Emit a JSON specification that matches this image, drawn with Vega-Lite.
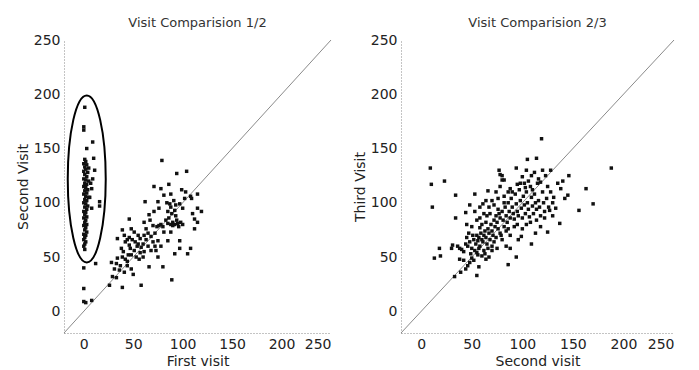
{
  "$schema": "https://vega.github.io/schema/vega-lite/v6.json",
  "background": "white",
  "padding": {"left": 16, "top": 17, "right": 5, "bottom": 5},
  "spacing": 20,
  "datasets": {
    "v12": [
      {"x":1,"y":188},{"x":0,"y":170},{"x":0,"y":167},{"x":9,"y":156},{"x":3,"y":150},{"x":10,"y":141},{"x":11,"y":130},{"x":16,"y":101},{"x":16,"y":97},{"x":8,"y":95},{"x":0,"y":40},{"x":12,"y":44},{"x":0,"y":21},{"x":0,"y":9},{"x":2,"y":8},{"x":8,"y":10},{"x":7,"y":118},{"x":8,"y":113},{"x":6,"y":105},{"x":9,"y":122},{"x":5,"y":132},
      {"x":1,"y":140},{"x":2,"y":138},{"x":0,"y":136},{"x":3,"y":135},{"x":1,"y":133},{"x":2,"y":131},{"x":0,"y":129},{"x":4,"y":128},{"x":1,"y":126},{"x":3,"y":124},{"x":0,"y":122},{"x":2,"y":121},{"x":5,"y":120},{"x":1,"y":118},{"x":3,"y":117},{"x":0,"y":115},{"x":2,"y":114},{"x":4,"y":112},{"x":1,"y":111},{"x":3,"y":109},{"x":0,"y":108},{"x":2,"y":106},{"x":5,"y":105},{"x":1,"y":103},{"x":3,"y":102},{"x":0,"y":100},{"x":2,"y":99},{"x":4,"y":97},{"x":1,"y":96},{"x":3,"y":94},{"x":0,"y":92},{"x":2,"y":91},{"x":1,"y":89},{"x":3,"y":87},{"x":0,"y":86},{"x":2,"y":84},{"x":1,"y":82},{"x":3,"y":80},{"x":0,"y":79},{"x":2,"y":77},{"x":1,"y":75},{"x":3,"y":73},{"x":0,"y":71},{"x":2,"y":70},{"x":1,"y":68},{"x":0,"y":66},{"x":2,"y":64},{"x":1,"y":62},{"x":0,"y":60},{"x":1,"y":57},
      {"x":79,"y":139},{"x":104,"y":129},{"x":94,"y":127},{"x":86,"y":117},{"x":71,"y":115},{"x":78,"y":113},{"x":99,"y":112},{"x":115,"y":108},{"x":108,"y":106},{"x":81,"y":107},{"x":102,"y":104},{"x":91,"y":102},{"x":109,"y":104},{"x":62,"y":101},{"x":75,"y":101},{"x":97,"y":99},{"x":87,"y":99},{"x":115,"y":95},{"x":119,"y":92},{"x":88,"y":96},{"x":46,"y":85},{"x":71,"y":92},{"x":85,"y":92},{"x":92,"y":93},{"x":112,"y":85},{"x":115,"y":82},{"x":112,"y":76},{"x":66,"y":89},{"x":76,"y":95},{"x":61,"y":82},{"x":70,"y":79},{"x":76,"y":79},{"x":85,"y":81},{"x":90,"y":82},{"x":95,"y":81},{"x":81,"y":73},{"x":88,"y":73},{"x":39,"y":75},{"x":48,"y":76},{"x":51,"y":73},{"x":55,"y":70},{"x":41,"y":70},{"x":34,"y":67},{"x":61,"y":70},{"x":68,"y":69},{"x":75,"y":65},{"x":85,"y":65},{"x":97,"y":65},{"x":108,"y":58},{"x":97,"y":58},{"x":105,"y":53},{"x":92,"y":53},{"x":28,"y":45},{"x":31,"y":39},{"x":33,"y":44},{"x":39,"y":50},{"x":48,"y":52},{"x":51,"y":56},{"x":58,"y":59},{"x":61,"y":55},{"x":68,"y":56},{"x":73,"y":56},{"x":75,"y":50},{"x":44,"y":46},{"x":48,"y":39},{"x":41,"y":36},{"x":50,"y":34},{"x":66,"y":41},{"x":80,"y":41},{"x":55,"y":62},{"x":46,"y":61},{"x":38,"y":58},{"x":34,"y":49},{"x":26,"y":24},{"x":39,"y":22},{"x":58,"y":24},{"x":89,"y":29},{"x":29,"y":32},{"x":33,"y":31},
      {"x":42,"y":64},{"x":44,"y":66},{"x":46,"y":68},{"x":49,"y":66},{"x":52,"y":64},{"x":54,"y":60},{"x":57,"y":67},{"x":60,"y":62},{"x":63,"y":66},{"x":65,"y":60},{"x":70,"y":64},{"x":72,"y":60},{"x":74,"y":78},{"x":78,"y":80},{"x":80,"y":78},{"x":83,"y":84},{"x":86,"y":86},{"x":88,"y":80},{"x":90,"y":79},{"x":92,"y":80},{"x":94,"y":84},{"x":96,"y":78},{"x":98,"y":82},{"x":100,"y":80},{"x":93,"y":88},{"x":89,"y":90},{"x":67,"y":84},{"x":63,"y":76},{"x":65,"y":72},{"x":72,"y":72},{"x":60,"y":50},{"x":56,"y":48},{"x":42,"y":48},{"x":45,"y":52},{"x":40,"y":55},{"x":37,"y":42},{"x":44,"y":42},{"x":36,"y":38},{"x":57,"y":54},{"x":53,"y":50},{"x":47,"y":58},{"x":78,"y":60},{"x":100,"y":95},{"x":103,"y":110},{"x":93,"y":98},{"x":84,"y":100},{"x":88,"y":108},{"x":110,"y":90}
    ],
    "v23": [
      {"x":9,"y":132},{"x":10,"y":117},{"x":11,"y":96},{"x":23,"y":120},{"x":34,"y":107},{"x":34,"y":86},{"x":119,"y":159},{"x":105,"y":140},{"x":114,"y":141},{"x":94,"y":132},{"x":77,"y":130},{"x":78,"y":126},{"x":188,"y":132},{"x":170,"y":99},{"x":163,"y":113},{"x":156,"y":93},{"x":146,"y":125},{"x":145,"y":107},{"x":142,"y":104},{"x":137,"y":81},{"x":128,"y":130},{"x":123,"y":125},{"x":118,"y":119},{"x":109,"y":125},{"x":102,"y":118},{"x":95,"y":117},{"x":80,"y":125},{"x":80,"y":121},{"x":88,"y":113},{"x":66,"y":111},{"x":53,"y":108},{"x":48,"y":98},{"x":44,"y":91},{"x":53,"y":92},{"x":61,"y":99},{"x":18,"y":58},{"x":13,"y":49},{"x":19,"y":51},{"x":30,"y":58},{"x":31,"y":61},{"x":38,"y":58},{"x":33,"y":32},{"x":39,"y":36},{"x":46,"y":42},{"x":44,"y":39},{"x":55,"y":33},{"x":57,"y":41},{"x":50,"y":49},{"x":63,"y":53},{"x":67,"y":50},{"x":86,"y":43},{"x":94,"y":50},{"x":109,"y":62},{"x":99,"y":69},{"x":113,"y":72},{"x":125,"y":73},{"x":122,"y":86},{"x":127,"y":93},{"x":133,"y":95},{"x":138,"y":113},{"x":131,"y":105},
      {"x":40,"y":57},{"x":42,"y":55},{"x":44,"y":62},{"x":46,"y":60},{"x":48,"y":64},{"x":50,"y":58},{"x":52,"y":66},{"x":54,"y":62},{"x":55,"y":70},{"x":56,"y":65},{"x":57,"y":68},{"x":58,"y":60},{"x":59,"y":72},{"x":60,"y":66},{"x":61,"y":64},{"x":62,"y":70},{"x":63,"y":74},{"x":64,"y":68},{"x":65,"y":62},{"x":66,"y":76},{"x":67,"y":72},{"x":68,"y":66},{"x":69,"y":80},{"x":70,"y":74},{"x":71,"y":70},{"x":72,"y":84},{"x":73,"y":78},{"x":74,"y":88},{"x":75,"y":82},{"x":76,"y":76},{"x":77,"y":90},{"x":78,"y":86},{"x":79,"y":70},{"x":80,"y":92},{"x":81,"y":84},{"x":82,"y":78},{"x":83,"y":96},{"x":84,"y":88},{"x":85,"y":82},{"x":86,"y":100},{"x":87,"y":92},{"x":88,"y":86},{"x":89,"y":104},{"x":90,"y":96},{"x":91,"y":90},{"x":92,"y":85},{"x":93,"y":108},{"x":94,"y":99},{"x":95,"y":92},{"x":96,"y":88},{"x":97,"y":112},{"x":98,"y":102},{"x":99,"y":95},{"x":100,"y":86},{"x":101,"y":106},{"x":102,"y":98},{"x":103,"y":90},{"x":104,"y":110},{"x":105,"y":100},{"x":106,"y":94},{"x":107,"y":87},{"x":108,"y":115},{"x":109,"y":105},{"x":110,"y":97},{"x":111,"y":90},{"x":112,"y":108},{"x":113,"y":100},{"x":114,"y":94},{"x":115,"y":118},{"x":116,"y":102},{"x":117,"y":96},{"x":118,"y":88},{"x":120,"y":110},{"x":121,"y":100},{"x":122,"y":92},{"x":124,"y":104},{"x":126,"y":96},{"x":128,"y":110},{"x":130,"y":100},
      {"x":45,"y":68},{"x":47,"y":72},{"x":49,"y":53},{"x":51,"y":70},{"x":53,"y":56},{"x":55,"y":54},{"x":57,"y":58},{"x":58,"y":77},{"x":60,"y":80},{"x":62,"y":56},{"x":64,"y":82},{"x":65,"y":88},{"x":66,"y":58},{"x":68,"y":90},{"x":70,"y":60},{"x":72,"y":64},{"x":74,"y":68},{"x":76,"y":94},{"x":78,"y":72},{"x":80,"y":66},{"x":82,"y":100},{"x":84,"y":74},{"x":86,"y":76},{"x":88,"y":70},{"x":90,"y":110},{"x":92,"y":78},{"x":95,"y":80},{"x":98,"y":118},{"x":100,"y":124},{"x":103,"y":114},{"x":106,"y":120},{"x":110,"y":112},{"x":112,"y":128},{"x":116,"y":122},{"x":120,"y":130},{"x":125,"y":115},{"x":36,"y":60},{"x":38,"y":48},{"x":42,"y":47},{"x":48,"y":45},{"x":52,"y":47},{"x":56,"y":52},{"x":60,"y":51},{"x":64,"y":48},{"x":70,"y":56},{"x":75,"y":58},{"x":84,"y":60},{"x":88,"y":58},{"x":58,"y":86},{"x":62,"y":90},{"x":67,"y":96},{"x":72,"y":98},{"x":76,"y":104},{"x":82,"y":106},{"x":86,"y":110},{"x":74,"y":110},{"x":70,"y":102},{"x":64,"y":102},{"x":55,"y":84},{"x":50,"y":78},{"x":45,"y":80},{"x":58,"y":96},{"x":78,"y":115},{"x":82,"y":121},{"x":96,"y":66},{"x":100,"y":76},{"x":104,"y":80},{"x":108,"y":82},{"x":114,"y":84},{"x":118,"y":78},{"x":130,"y":88},{"x":135,"y":118},{"x":140,"y":120},{"x":104,"y":130}
    ],
    "diag": [{"x":-20,"y":-20},{"x":250,"y":250}],
    "ell": [{"x":3,"y":122}]
  },
  "hconcat": [
    {
      "width": 267, "height": 293,
      "title": {"text": "Visit Comparision 1/2"},
      "layer": [
        {"data": {"name": "diag"}, "mark": {"type": "line", "color": "#8a8a8a", "strokeWidth": 1},
         "encoding": {
           "x": {"field": "x", "type": "quantitative", "scale": {"domain": [-20, 250], "nice": false, "zero": false}, "axis": {"title": "First visit", "values": [0, 50, 100, 150, 200, 250]}},
           "y": {"field": "y", "type": "quantitative", "scale": {"domain": [-20, 250], "nice": false, "zero": false}, "axis": {"title": "Second Visit", "values": [0, 50, 100, 150, 200, 250]}}
         }},
        {"data": {"name": "v12"}, "mark": {"type": "point", "shape": "square", "filled": true, "color": "#111", "size": 12, "opacity": 1},
         "encoding": {"x": {"field": "x", "type": "quantitative"}, "y": {"field": "y", "type": "quantitative"}}},
        {"data": {"name": "ell"}, "mark": {"type": "point", "shape": "M0,-1A0.2275,1,0,1,1,0,1A0.2275,1,0,1,1,0,-1Z", "filled": false, "stroke": "#000", "strokeWidth": 2, "size": 27889, "opacity": 1},
         "encoding": {"x": {"field": "x", "type": "quantitative"}, "y": {"field": "y", "type": "quantitative"}}}
      ]
    },
    {
      "width": 273, "height": 293,
      "title": {"text": "Visit Comparision 2/3"},
      "layer": [
        {"data": {"name": "diag"}, "mark": {"type": "line", "color": "#8a8a8a", "strokeWidth": 1},
         "encoding": {
           "x": {"field": "x", "type": "quantitative", "scale": {"domain": [-20, 250], "nice": false, "zero": false}, "axis": {"title": "Second visit", "values": [0, 50, 100, 150, 200, 250]}},
           "y": {"field": "y", "type": "quantitative", "scale": {"domain": [-20, 250], "nice": false, "zero": false}, "axis": {"title": "Third Visit", "values": [0, 50, 100, 150, 200, 250]}}
         }},
        {"data": {"name": "v23"}, "mark": {"type": "point", "shape": "square", "filled": true, "color": "#111", "size": 12, "opacity": 1},
         "encoding": {"x": {"field": "x", "type": "quantitative"}, "y": {"field": "y", "type": "quantitative"}}}
      ]
    }
  ],
  "config": {
    "view": {"stroke": null},
    "axis": {"grid": false, "ticks": false, "domainDash": [1, 2], "domainColor": "#888", "domainWidth": 1,
             "labelFont": "DejaVu Sans", "labelFontSize": 14, "labelColor": "#222", "labelPadding": 4,
             "titleFont": "DejaVu Sans", "titleFontSize": 14, "titleFontWeight": "normal", "titleColor": "#222", "titlePadding": 3},
    "title": {"font": "DejaVu Sans", "fontSize": 13, "fontWeight": "normal", "color": "#333", "offset": 3}
  }
}
